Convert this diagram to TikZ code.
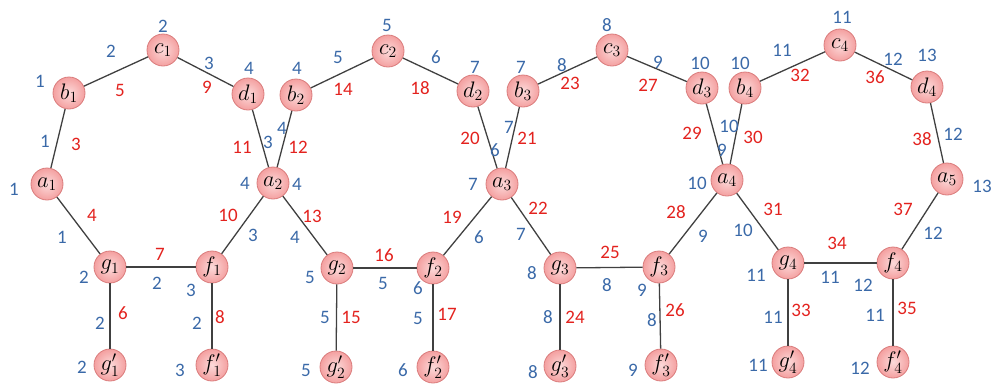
\documentclass[tikz,border=0pt]{standalone}
\usepackage{graphicx}
\usepackage{fontspec}
\newfontfamily\numfont{Carlito}
\newcommand\vlab[1]{\scalebox{1.3}{$#1$}}
\definecolor{numblue}{HTML}{3A69A8}
\definecolor{numred}{HTML}{E3221E}
\definecolor{edgec}{HTML}{404040}
\definecolor{vborder}{HTML}{DA7C7C}
\definecolor{vin}{HTML}{FCDADA}
\definecolor{vout}{HTML}{F4A0A0}
\begin{document}
\begin{tikzpicture}[x=1pt,y=-1pt,
  v/.style={circle,draw=vborder,line width=0.8pt,inner color=vin,outer color=vout,
    minimum size=32pt,inner sep=0pt,font=\fontsize{17.28}{18}\selectfont},
  e/.style={draw=edgec,line width=1.3pt},
  bl/.style={text=numblue,inner sep=0pt,font=\numfont\fontsize{19}{19}\selectfont},
  rd/.style={text=numred,inner sep=0pt,font=\numfont\fontsize{19}{19}\selectfont}]
\useasboundingbox (0,0) rectangle (991,384);
% vertices
\node[v] (c1) at (163,50) {\vlab{c_1}};
\node[v] (b1) at (69,93) {\vlab{b_1}};
\node[v] (d1) at (248,94) {\vlab{d_1}};
\node[v] (a1) at (47,184) {\vlab{a_1}};
\node[v] (a2) at (273,183) {\vlab{a_2}};
\node[v] (b2) at (296,95) {\vlab{b_2}};
\node[v] (c2) at (388,51) {\vlab{c_2}};
\node[v] (d2) at (473,91) {\vlab{d_2}};
\node[v] (b3) at (523,91) {\vlab{b_3}};
\node[v] (c3) at (612,50) {\vlab{c_3}};
\node[v] (d3) at (702,88) {\vlab{d_3}};
\node[v] (a3) at (502,184) {\vlab{a_3}};
\node[v] (a4) at (727,180) {\vlab{a_4}};
\node[v] (b4) at (745,88) {\vlab{b_4}};
\node[v] (c4) at (840,45) {\vlab{c_4}};
\node[v] (d4) at (927,87) {\vlab{d_4}};
\node[v] (a5) at (947,179) {\vlab{a_5}};
\node[v] (g1) at (110,267) {\vlab{g_1}};
\node[v] (f1) at (212,267) {\vlab{f_1}};
\node[v] (gp1) at (110,365) {\vlab{g'_1}};
\node[v] (fp1) at (212,365) {\vlab{f'_1}};
\node[v] (g2) at (337,268) {\vlab{g_2}};
\node[v] (f2) at (433,268) {\vlab{f_2}};
\node[v] (gp2) at (336,367) {\vlab{g'_2}};
\node[v] (fp2) at (433,367) {\vlab{f'_2}};
\node[v] (g3) at (560,268) {\vlab{g_3}};
\node[v] (f3) at (659,267) {\vlab{f_3}};
\node[v] (gp3) at (560,366) {\vlab{g'_3}};
\node[v] (fp3) at (661,365) {\vlab{f'_3}};
\node[v] (g4) at (788,263) {\vlab{g_4}};
\node[v] (f4) at (893,263) {\vlab{f_4}};
\node[v] (gp4) at (788,362) {\vlab{g'_4}};
\node[v] (fp4) at (893,362) {\vlab{f'_4}};
% edges
\foreach \p/\q in {b1/c1,c1/d1,a1/b1,d1/a2,b2/a2,b2/c2,c2/d2,d2/a3,b3/a3,b3/c3,c3/d3,d3/a4,b4/a4,b4/c4,c4/d4,d4/a5,
  a1/g1,g1/f1,f1/a2,g1/gp1,f1/fp1,a2/g2,g2/f2,f2/a3,g2/gp2,f2/fp2,a3/g3,g3/f3,f3/a4,g3/gp3,f3/fp3,a4/g4,g4/f4,f4/a5,g4/gp4,f4/fp4}
  \draw[e] (\p) -- (\q);
% blue labels
\foreach \x/\y/\t [count=\i] in {163/26/2, 111/51/2, 209/63/3, 249/68/4, 40/81/1, 45/141/1, 14/189/1, 245/183/4,
 387/25/5, 338/57/5, 436/57/6, 297/68/4, 475/67/7, 282/128/4, 268/142/3, 495/150/6, 297/184/4, 473/184/7,
 607/25/8, 562/65/8, 658/62/9, 700/63/10, 521/67/7, 509/127/7, 729/126/10, 722/150/9, 697/183/10,
 842/17/11, 782/50/11, 893/59/12, 927/55/13, 740/63/10, 953/134/12, 982/186/13,
 62/237/1, 253/235/3, 84/277/2, 157/283/2, 191/290/3, 100/323/2, 197/323/2, 82/367/2, 180/370/3,
 295/237/4, 479/237/6, 310/277/5, 383/283/5, 418/288/6, 325/317/5, 418/318/5, 306/370/5, 403/370/6,
 521/234/7, 703/236/9, 532/273/8, 607/285/8, 642/290/9, 548/317/8, 652/320/8, 533/372/8, 633/370/9,
 743/230/10, 933/233/12, 756/275/11, 830/277/11, 863/285/12, 773/317/11, 875/315/11, 758/365/11, 860/368/12}
  \node[bl] (bl\i) at (\x,\y) {\t};
% red labels
\foreach \x/\y/\t [count=\i] in {120/90/5, 207/87/9, 76/144/3, 242/147/11, 298/147/12, 343/89/14, 420/88/18, 470/138/20,
 527/138/21, 570/83/23, 648/85/27, 692/133/29, 753/137/30, 800/75/32, 875/77/36, 922/139/38,
 92/215/4, 228/215/10, 160/254/7, 123/313/6, 220/317/8,
 312/216/13, 452/217/19, 384/255/16, 351/317/15, 447/314/17,
 538/208/22, 676/212/28, 610/252/25, 575/317/24, 675/310/26,
 773/209/31, 903/209/37, 837/243/34, 801/310/33, 907/308/35}
  \node[rd] (rd\i) at (\x,\y) {\t};
\end{tikzpicture}
\end{document}
